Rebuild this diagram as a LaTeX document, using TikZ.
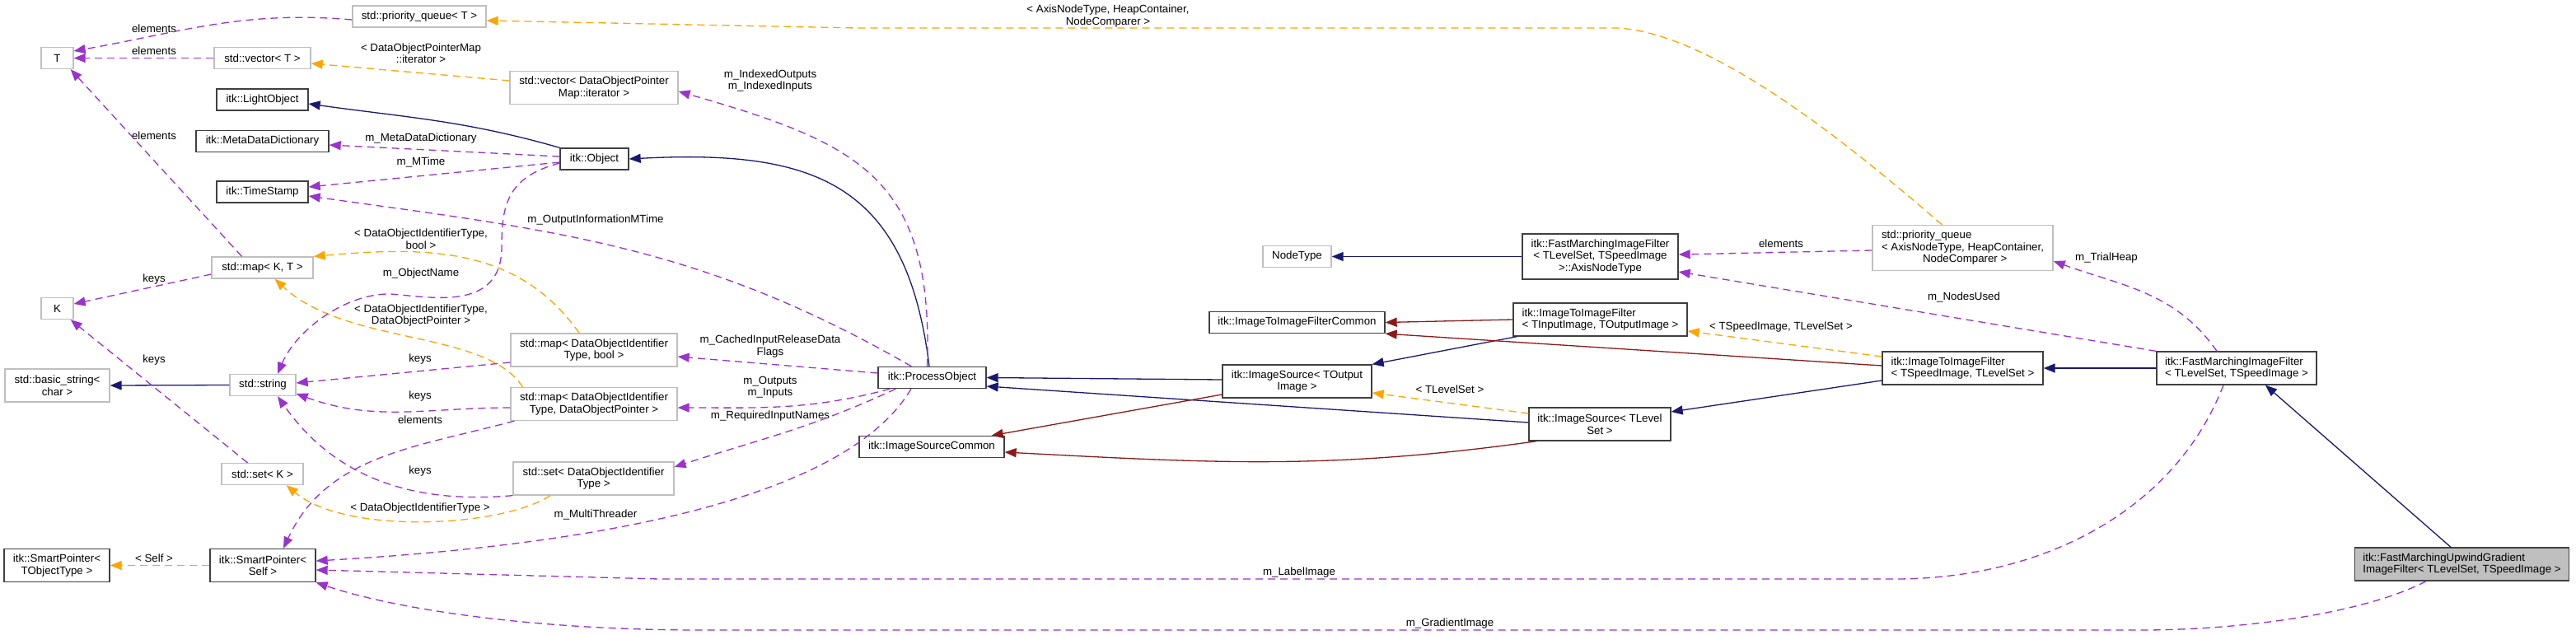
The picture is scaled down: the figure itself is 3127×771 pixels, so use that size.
\documentclass[tikz,border=0pt]{standalone}
\usepackage{fontspec}
\setmainfont{Liberation Sans}
\usepackage{xcolor}
\usepackage{tikz}
\usetikzlibrary{arrows.meta}

\definecolor{azulnoche}{HTML}{191970}
\definecolor{rojoladrillo}{HTML}{8B1A1A}
\definecolor{naranja}{HTML}{FFA500}
\definecolor{orquidea}{HTML}{9A32CD}
\definecolor{grisclaro}{HTML}{BFBFBF}
\definecolor{grisborde}{HTML}{404040}

\begin{document}
\begin{tikzpicture}[
    x=1pt, y=-1pt,
    every node/.style={font=\fontsize{13.3}{14.5}\selectfont},
    clase/.style={rectangle, draw=grisborde, fill=white, line width=1.3pt,
                  minimum height=26pt, inner xsep=10pt, inner ysep=6pt},
    externa/.style={clase, draw=grisclaro},
    dos/.style={minimum height=40pt},
    tres/.style={minimum height=55pt},
    etiqueta/.style={inner sep=0pt, align=center},
    flecha/.style={-{Triangle[length=14pt, width=11pt]}, line width=1.3pt},
    herencia/.style={flecha, draw=azulnoche},
    privada/.style={flecha, draw=rojoladrillo},
    plantilla/.style={flecha, draw=naranja, dash pattern=on 9pt off 6pt},
    uso/.style={flecha, draw=orquidea, dash pattern=on 9pt off 6pt}
]
    \fill[white] (0,0) rectangle (3127,771);
    \useasboundingbox (0,0) rectangle (3127,771);

    \node[externa, minimum width=39pt] (T) at (69.5,70.5) {T};
    \node[externa, minimum width=39pt] (K) at (69.5,374.5) {K};
    \node[externa, dos, align=center, minimum width=127pt] (bstr) at (69.5,468) {std::basic\_string<\\char >};
    \node[clase, dos, align=center, minimum width=128pt] (spTO) at (69,686.5) {itk::SmartPointer<\\TObjectType >};
    \node[externa, minimum width=162pt] (pqT) at (509,20) {std::priority\_queue< T >};
    \node[externa, minimum width=117pt] (vecT) at (318.5,70.5) {std::vector< T >};
    \node[clase, minimum width=111pt] (light) at (318.5,121) {itk::LightObject};
    \node[clase, minimum width=161pt] (mdd) at (318.5,171.5) {itk::MetaDataDictionary};
    \node[clase, minimum width=111pt] (ts) at (318.5,233) {itk::TimeStamp};
    \node[externa, minimum width=123pt] (mapKT) at (318.5,325) {std::map< K, T >};
    \node[externa, minimum width=80pt] (str) at (319,467.5) {std::string};
    \node[externa, minimum width=99pt] (setK) at (318.5,575.5) {std::set< K >};
    \node[clase, dos, align=center, minimum width=128pt] (spSelf) at (319,686.5) {itk::SmartPointer<\\Self >};
    \node[externa, dos, align=center, minimum width=204pt] (vecIt) at (721,106.5) {std::vector< DataObjectPointer\\Map::iterator >};
    \node[clase, minimum width=83pt] (obj) at (721.5,193) {itk::Object};
    \node[externa, dos, align=center, minimum width=202pt] (mapB) at (721,425) {std::map< DataObjectIdentifier\\Type, bool >};
    \node[externa, dos, align=center, minimum width=202pt] (mapP) at (721,490.5) {std::map< DataObjectIdentifier\\Type, DataObjectPointer >};
    \node[externa, dos, align=center, minimum width=195pt] (setD) at (720.5,581) {std::set< DataObjectIdentifier\\Type >};
    \node[clase, minimum width=131pt] (po) at (1131.5,458.5) {itk::ProcessObject};
    \node[clase, minimum width=176pt] (isc) at (1131,542.5) {itk::ImageSourceCommon};
    \node[externa, minimum width=83pt] (nodeT) at (1574.5,311.5) {NodeType};
    \node[clase, minimum width=213pt] (itifc) at (1574.5,391.5) {itk::ImageToImageFilterCommon};
    \node[clase, dos, align=center, minimum width=181pt] (isOut) at (1574.5,463) {itk::ImageSource< TOutput\\Image >};
    \node[clase, tres, align=center, minimum width=189pt] (axis) at (1942.5,311.5) {itk::FastMarchingImageFilter\\< TLevelSet, TSpeedImage\\>::AxisNodeType};
    \node[clase, dos, align=left, minimum width=211pt] (itifIO) at (1942.5,388) {itk::ImageToImageFilter\\< TInputImage, TOutputImage >};
    \node[clase, dos, align=center, minimum width=172pt] (isLS) at (1942,515) {itk::ImageSource< TLevel\\Set >};
    \node[externa, tres, align=left, minimum width=219pt] (pqA) at (2382.5,301) {std::priority\_queue\\< AxisNodeType, HeapContainer,\\\hspace*{50pt}NodeComparer >};
    \node[clase, dos, align=left, minimum width=195pt] (itifSL) at (2382.5,447) {itk::ImageToImageFilter\\< TSpeedImage, TLevelSet >};
    \node[clase, dos, align=left, minimum width=194pt] (fmif) at (2715,447) {itk::FastMarchingImageFilter\\< TLevelSet, TSpeedImage >};
    \node[clase, dos, align=left, fill=grisclaro, minimum width=257pt] (upw) at (2988.5,685) {itk::FastMarchingUpwindGradient\\ImageFilter< TLevelSet, TSpeedImage >};

    \node[etiqueta] (lbElemPq) at (187,35) {elements};
    \node[etiqueta] (lbElemVec) at (187,62) {elements};
    \node[etiqueta] (lbElemMap) at (187,165) {elements};
    \node[etiqueta] (lbKeysMap) at (187,339) {keys};
    \node[etiqueta] (lbKeysSet) at (187,437) {keys};
    \node[etiqueta] (lbSelf) at (187,678) {< Self >};
    \node[etiqueta] (lbIter) at (511,64.5) {< DataObjectPointerMap\\::iterator >};
    \node[etiqueta] (lbMeta) at (511,168) {m\_MetaDataDictionary};
    \node[etiqueta] (lbMTime) at (511,197) {m\_MTime};
    \node[etiqueta] (lbBool) at (511,290) {< DataObjectIdentifierType,\\bool >};
    \node[etiqueta] (lbName) at (511,332) {m\_ObjectName};
    \node[etiqueta] (lbPtr) at (511,383) {< DataObjectIdentifierType,\\DataObjectPointer >};
    \node[etiqueta] (lbKeysB) at (510,436) {keys};
    \node[etiqueta] (lbKeysP) at (510,481) {keys};
    \node[etiqueta] (lbElemP) at (510,510) {elements};
    \node[etiqueta] (lbKeysD) at (510,572) {keys};
    \node[etiqueta] (lbIdent) at (510,617) {< DataObjectIdentifierType >};
    \node[etiqueta] (lbThreader) at (723,625) {m\_MultiThreader};
    \node[etiqueta] (lbInfo) at (723,267) {m\_OutputInformationMTime};
    \node[etiqueta] (lbIndexed) at (935,98) {m\_IndexedOutputs\\m\_IndexedInputs};
    \node[etiqueta] (lbCached) at (935,420.5) {m\_CachedInputReleaseData\\Flags};
    \node[etiqueta] (lbOutputs) at (935,470) {m\_Outputs\\m\_Inputs};
    \node[etiqueta] (lbRequired) at (935,505) {m\_RequiredInputNames};
    \node[etiqueta] (lbHeap) at (1345,19.5) {< AxisNodeType, HeapContainer,\\NodeComparer >};
    \node[etiqueta] (lbLabel) at (1577,695) {m\_LabelImage};
    \node[etiqueta] (lbLevel) at (1760,473) {< TLevelSet >};
    \node[etiqueta] (lbGradient) at (1760,757) {m\_GradientImage};
    \node[etiqueta] (lbElemA) at (2162,296) {elements};
    \node[etiqueta] (lbSpeed) at (2162,397) {< TSpeedImage, TLevelSet >};
    \node[etiqueta] (lbNodes) at (2384,361) {m\_NodesUsed};
    \node[etiqueta] (lbTrial) at (2557,313) {m\_TrialHeap};

    \draw[herencia] (obj.north west) to[out=164,in=-8] ([yshift=-5pt]light.east);
    \draw[herencia] ([xshift=-3.5pt]po.north) to[out=97,in=3,looseness=1.3] (obj.east);
    \draw[herencia] (str.west) -- (bstr.east);
    \draw[herencia] ([yshift=2pt]isOut.west) -- (po.east);
    \draw[herencia] ([yshift=2pt]isLS.west) -- ([yshift=-10.5pt]po.east);
    \draw[herencia] ([xshift=5pt]itifIO.south west) -- (isOut.north east);
    \draw[herencia] ([yshift=-15pt]itifSL.west) -- ([yshift=15pt]isLS.east);
    \draw[herencia] (fmif.west) -- (itifSL.east);
    \draw[herencia] ([xshift=-13.5pt]upw.north) -- ([xshift=35pt]fmif.south);
    \draw[herencia] (axis.west) -- (nodeT.east);

    \draw[privada] ([yshift=-16pt]isOut.west) -- ([xshift=-16pt]isc.north east);
    \draw[privada] ([xshift=10pt]isLS.south west) to[out=188,in=-3] ([yshift=-6.5pt]isc.east);
    \draw[privada] (itifIO.west) -- (itifc.east);
    \draw[privada] ([yshift=3pt]itifSL.west) -- (itifc.south east);

    \draw[plantilla] ([xshift=85pt]pqA.north west) .. controls (2250,180) and (2080,40) .. (1963,34)
                     -- (1040,34) -- ([yshift=-5pt]pqT.east);
    \draw[plantilla] ([yshift=8.5pt]vecIt.west) -- ([yshift=-6.5pt]vecT.east);
    \draw[plantilla] ([xshift=-18pt]mapB.north) to[out=125,in=5] (mapKT.north east);
    \draw[plantilla] ([xshift=15pt]mapP.north west) .. controls (590,400) and (420,420) .. ([xshift=15pt]mapKT.south);
    \draw[plantilla] ([xshift=-52.5pt]setD.south) .. controls (610,640) and (420,650) .. ([xshift=-21pt]setK.south east);
    \draw[plantilla] (spSelf.west) -- (spTO.east);
    \draw[plantilla] ([yshift=13pt]isLS.west) -- ([yshift=-14pt]isOut.east);
    \draw[plantilla] ([yshift=14pt]itifSL.west) -- ([yshift=-14pt]itifIO.east);

    \draw[uso] ([yshift=-4pt]pqT.west) to[out=175,in=10] ([yshift=8.5pt]T.east);
    \draw[uso] (vecT.west) -- (T.east);
    \draw[uso] ([xshift=-25pt]mapKT.north) -- ([xshift=-4pt]T.south east);
    \draw[uso] ([yshift=-8pt]mapKT.west) -- ([yshift=5.5pt]K.east);
    \draw[uso] ([xshift=-18pt]setK.north) -- ([xshift=-4pt]K.south east);
    \draw[uso] ([yshift=3pt]obj.west) -- ([yshift=-4.5pt]mdd.east);
    \draw[uso] ([yshift=-4pt]obj.west) -- ([yshift=6pt]ts.east);
    \draw[uso] ([yshift=-5pt]obj.west) .. controls (615,215) and (609,250) .. (609,300)
               .. controls (609,380) and (520,360) .. (474,357)
               .. controls (420,356) and (360,400) .. ([xshift=18pt]str.north);
    \draw[uso] ([xshift=41pt]po.north west) to[out=150,in=-8] ([yshift=-5pt]ts.east);
    \draw[uso] ([xshift=-6pt]po.north) to[out=88,in=-16,looseness=1.3] ([yshift=-4.5pt]vecIt.east);
    \draw[uso] ([yshift=5.5pt]po.west) -- ([yshift=-8pt]mapB.east);
    \draw[uso] ([xshift=15pt]po.south west) to[out=195,in=0] ([yshift=-4.5pt]mapP.east);
    \draw[uso] ([xshift=22pt]po.south west) to[out=205,in=18] ([yshift=14pt]setD.east);
    \draw[uso] ([xshift=-25.5pt]po.south) .. controls (1030,600) and (750,660) .. ([yshift=5.5pt]spSelf.east);
    \draw[uso] ([yshift=-15pt]mapB.west) -- ([yshift=2.5pt]str.east);
    \draw[uso] ([yshift=-4.5pt]mapP.west) to[out=180,in=-20] ([yshift=-10.5pt]str.east);
    \draw[uso] ([xshift=5pt]mapP.south west) to[out=195,in=65] ([xshift=25pt]spSelf.north);
    \draw[uso] (setD.south west) to[out=185,in=-55] ([xshift=18pt]str.south);
    \draw[uso] (fmif.north west) -- ([yshift=-18.5pt]axis.east);
    \draw[uso] ([xshift=-24pt]fmif.north) to[out=125,in=-20] ([yshift=-16pt]pqA.east);
    \draw[uso] ([yshift=-3pt]pqA.west) -- ([yshift=2.5pt]axis.east);
    \draw[uso] ([xshift=-16pt]fmif.south) .. controls (2640,620) and (2480,703) .. (2300,703)
               -- (800,703) -- ([yshift=-5.5pt]spSelf.east);
    \draw[uso] ([xshift=-43.5pt]upw.south) .. controls (2870,745) and (2720,765) .. (2600,765)
               -- (850,765) .. controls (650,765) and (480,740) .. (spSelf.south east);
\end{tikzpicture}
\end{document}
